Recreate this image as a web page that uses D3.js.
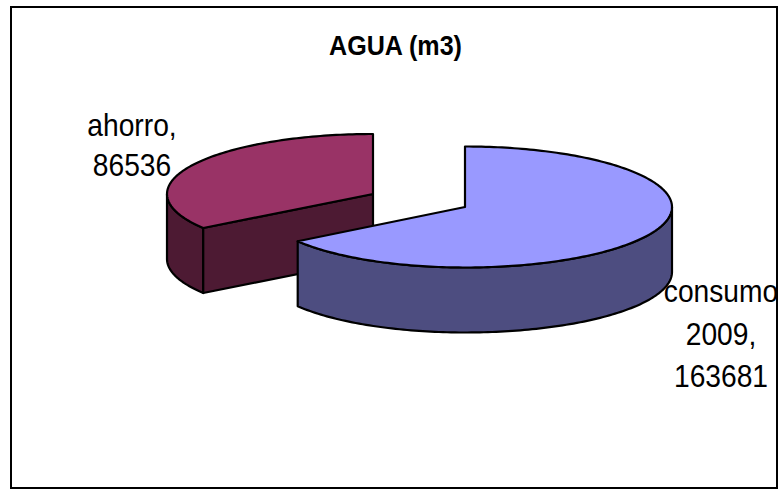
<!DOCTYPE html>
<html>
<head>
<meta charset="utf-8">
<script src="https://cdn.jsdelivr.net/npm/d3@7"></script>
<style>
html,body{margin:0;padding:0;background:#fff}
svg{display:block}
text{font-family:"Liberation Sans",Arial,sans-serif;fill:#000}
</style>
</head>
<body>
<svg id="chart" width="781" height="490"></svg>
<script>
const categories = ["consumo 2009", "ahorro"];
const values = [163681, 86536];
const chartTitle = "AGUA (m3)";
const topColors = ["#9999ff", "#993366"];
const sideColors = ["#4d4d80", "#4d1a33"];
const labelLines = [["consumo", "2009,", "163681"], ["ahorro,", "86536"]];

const svg = d3.select("#chart");

// Condensed lettering: tall glyphs squeezed horizontally
const squeeze = 0.91;

svg.append("text").attr("transform", "translate(395.5,55) scale(0.93,1)")
  .attr("text-anchor", "middle").attr("font-size", 27).attr("font-weight", "bold")
  .text(chartTitle);

// Clockwise from twelve o'clock, in the order of the data
const pie = d3.pie().sort(null).value(d => d)(values);

// Tilted-disc projection: unit disc to screen, one pair of scales per exploded slice
const depth = 65;
const discs = [
  { x: d3.scaleLinear().domain([-1, 0, 1]).range([465 - 203, 465, 465 + 207]),
    y: d3.scaleLinear().domain([-1, 1]).range([207 - 60.5, 207 + 60.5]) },
  { x: d3.scaleLinear().domain([-1, 1]).range([373 - 206, 373 + 206]),
    y: d3.scaleLinear().domain([-1, 1]).range([194 - 60, 194 + 60]) }
];
const line = d3.line();

function rim(disc, a0, a1, dy = 0) {
  const n = Math.max(2, Math.ceil((a1 - a0) / 0.02));
  return d3.range(n + 1).map(i => {
    const a = a0 + (a1 - a0) * i / n;
    return [disc.x(Math.sin(a)), disc.y(-Math.cos(a)) + dy];
  });
}
const apex = (disc, dy = 0) => [disc.x(0), disc.y(0) + dy];

function wall(g, pts, fill) {
  g.append("path").attr("d", line(pts) + "Z").attr("fill", fill)
    .attr("stroke", "#000").attr("stroke-width", 2.2).attr("stroke-linejoin", "round");
}

// Slices back to front: the smaller one sits behind
[1, 0].forEach(i => {
  const p = pie[i], disc = discs[i];
  const g = svg.append("g").attr("class", "slice").datum(categories[i]);
  const a0 = p.startAngle, a1 = p.endAngle;
  const half = Math.PI * 0.5, threeHalf = Math.PI * 1.5;

  // Outer wall: only the part of the rim that faces the viewer
  const w0 = Math.max(a0, half), w1 = Math.min(a1, threeHalf);
  if (w1 > w0) {
    wall(g, rim(disc, w0, w1).concat(rim(disc, w0, w1, depth).reverse()), sideColors[i]);
  }
  // Cut face of the slice whose radial edge looks toward the viewer
  if (i === 1) {
    const e = rim(disc, a0, a0)[0];
    wall(g, [apex(disc), e, [e[0], e[1] + depth], apex(disc, depth)], sideColors[i]);
  }
  // Top face
  wall(g, [apex(disc)].concat(rim(disc, a0, a1)), topColors[i]);
});

// Data labels
const labels = svg.append("g");
[{ i: 1, x: 132, y: 136, lh: 40 }, { i: 0, x: 721, y: 302, lh: 42.5 }].forEach(l => {
  labelLines[l.i].forEach((t, k) => {
    labels.append("text")
      .attr("transform", `translate(${l.x},${l.y + k * l.lh}) scale(${squeeze},1)`)
      .attr("text-anchor", "middle").attr("font-size", 31).text(t);
  });
});

// Chart frame, above the labels so the long one runs into it
svg.append("rect").attr("x", 11).attr("y", 7).attr("width", 766).attr("height", 481)
  .attr("fill", "none").attr("stroke", "#000").attr("stroke-width", 2);
</script>
</body>
</html>
